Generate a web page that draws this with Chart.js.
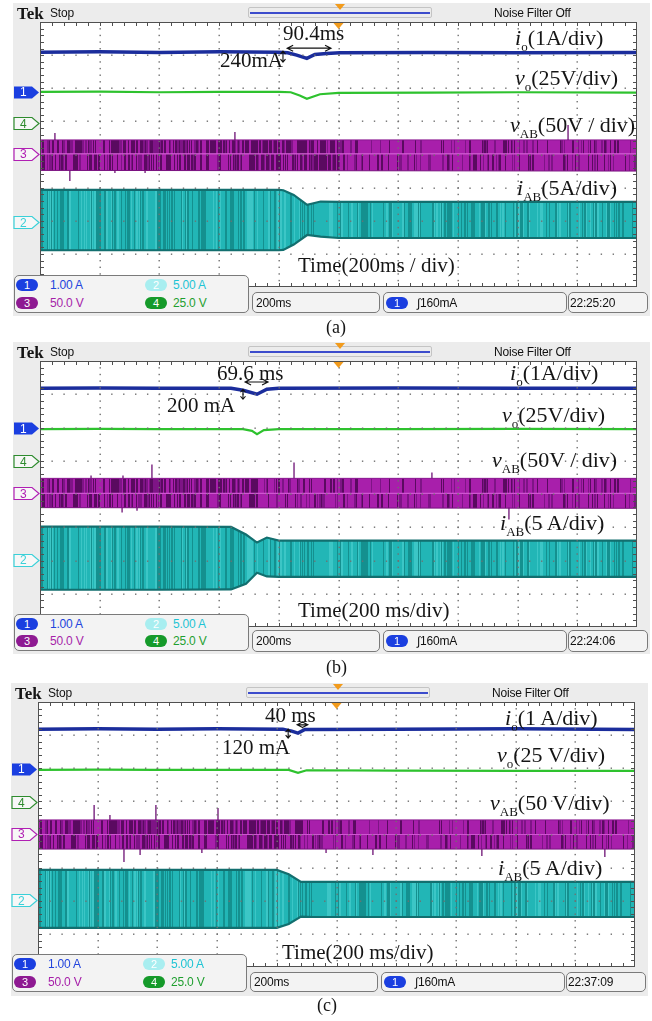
<!DOCTYPE html>
<html>
<head>
<meta charset="utf-8">
<script src="https://cdn.jsdelivr.net/npm/chart.js@4.4.1/dist/chart.umd.min.js"></script>
<style>
body { margin: 0; background: #fff; width: 652px; height: 1021px; position: relative; overflow: hidden; }
.panel { position: absolute; left: 0; width: 652px; height: 318px; }
.panel canvas { position: absolute; left: 0; top: 0; }
.scr { position: absolute; background: #ececec; }
.t { position: absolute; white-space: nowrap; line-height: 1; transform: translateY(-50%); }
.serif { font-family: "Liberation Serif", "Times New Roman", serif; color: #151515; }
.lbl { font-size: 22px; }
.ui { font-family: "Liberation Sans", Arial, sans-serif; font-size: 12px; color: #111; letter-spacing: -0.2px; }
.box { position: absolute; border: 1px solid #7a7a7a; border-radius: 5px; background: #f3f3f3; box-sizing: border-box; }
.pill { position: absolute; width: 22px; height: 12px; border-radius: 6px; color: #fff; text-align: center;
        font-family: "Liberation Sans", Arial, sans-serif; font-size: 11px; line-height: 12px; transform: translateY(-50%); }
.mk { position: absolute; font-family: "Liberation Sans", Arial, sans-serif; font-size: 12px; line-height: 1; transform: translateY(-50%); }
sub { font-size: 13px; vertical-align: -6px; line-height: 0; font-style: normal; }
.bar { position: absolute; height: 11px; border: 1px solid #c4c4c4; border-radius: 2px; box-sizing: border-box; }
.bar div { position: absolute; left: 1px; right: 1px; top: 4px; height: 1.5px; background: #3c4ccc; }
.tri { position: absolute; width: 0; height: 0; border-left: 5px solid transparent; border-right: 5px solid transparent; border-top: 6px solid #f29b1c; }
</style>
</head>
<body>
<div id="pa" class="panel"></div>
<div id="pb" class="panel"></div>
<div id="pc" class="panel"></div>

<script>
// ---------- panel (a) ----------
const ioTimeA = [0, 200, 400, 600, 800, 830, 860, 894, 921, 960, 1005, 1300, 1600, 2000];
const ioA     = [7.09, 7.10, 7.08, 7.10, 7.09, 7.07, 7.00, 6.90, 7.02, 7.05, 7.07, 7.08, 7.07, 7.08];
const voTimeA = [0, 200, 400, 600, 800, 840, 870, 894, 938, 1000, 1300, 1600, 2000];
const voA     = [5.89, 5.90, 5.88, 5.89, 5.89, 5.88, 5.78, 5.68, 5.82, 5.86, 5.87, 5.88, 5.87];
const vabTimeA = [0, 2000];
const vabTopA  = [4.44, 4.44];
const vabMidA  = [4.02, 4.02];
const vabBotA  = [3.52, 3.50];
const spikeTimeA = [50, 100, 251, 352, 653, 1769];
const spikeTipA  = [4.65, 3.20, 3.44, 3.44, 4.68, 4.89];
const iabTimeA = [0, 400, 800, 815, 850, 895, 940, 1000, 1400, 2000];
const iabTopA  = [2.93, 2.93, 2.93, 2.92, 2.78, 2.48, 2.58, 2.57, 2.57, 2.57];
const iabBotA  = [1.11, 1.11, 1.11, 1.12, 1.28, 1.57, 1.52, 1.48, 1.48, 1.48];
const arrowA = [828, 975, 7.21];   // t0, t1, level
const tickA  = [814, 7.12, 6.79];  // t, from, to
const markerA = [5.89, 4.95, 4.02, 1.96]; // ch1, ch4, ch3, ch2

// ---------- panel (b) ----------
const ioTimeB = [0, 200, 400, 640, 680, 727, 760, 800, 1200, 1600, 2000];
const ioB     = [7.18, 7.19, 7.18, 7.18, 7.12, 7.00, 7.15, 7.18, 7.19, 7.18, 7.18];
const voTimeB = [0, 200, 400, 680, 710, 727, 750, 800, 1200, 1600, 2000];
const voB     = [5.95, 5.96, 5.95, 5.95, 5.90, 5.80, 5.92, 5.95, 5.95, 5.96, 5.95];
const vabTimeB = [0, 2000];
const vabTopB  = [4.47, 4.47];
const vabMidB  = [4.02, 4.02];
const vabBotB  = [3.59, 3.57];
const spikeTimeB = [171, 275, 278, 325, 375, 851, 1313, 1571];
const spikeTipB  = [4.56, 3.44, 4.56, 3.50, 4.89, 4.95, 4.65, 3.23];
const iabTimeB = [0, 400, 640, 690, 727, 760, 800, 1200, 2000];
const iabTopB  = [3.02, 3.02, 3.01, 2.78, 2.54, 2.69, 2.60, 2.60, 2.60];
const iabBotB  = [1.12, 1.12, 1.13, 1.30, 1.63, 1.52, 1.51, 1.51, 1.51];
const arrowB = [687, 764, 7.37];
const tickB  = [680, 7.15, 6.85];
const markerB = [5.98, 4.98, 4.02, 2.02];

// ---------- panel (c) ----------
const ioTimeC = [0, 200, 400, 600, 820, 850, 871, 894, 1200, 1600, 2000];
const ioC     = [7.18, 7.19, 7.18, 7.19, 7.18, 7.12, 7.06, 7.17, 7.18, 7.19, 7.17];
const voTimeC = [0, 200, 400, 600, 840, 871, 900, 1200, 1600, 2000];
const voC     = [5.95, 5.96, 5.95, 5.95, 5.95, 5.86, 5.94, 5.93, 5.92, 5.92];
const vabTimeC = [0, 2000];
const vabTopC  = [4.44, 4.44];
const vabMidC  = [4.00, 4.00];
const vabBotC  = [3.56, 3.56];
const spikeTimeC = [188, 241, 288, 342, 395, 549, 603, 965, 1122, 1487, 1899];
const spikeTipC  = [4.89, 4.59, 3.17, 3.38, 4.89, 3.44, 4.80, 3.44, 3.38, 3.35, 3.32];
const iabTimeC = [0, 400, 800, 840, 881, 920, 1200, 2000];
const iabTopC  = [2.93, 2.93, 2.93, 2.80, 2.57, 2.57, 2.57, 2.57];
const iabBotC  = [1.18, 1.18, 1.18, 1.30, 1.52, 1.51, 1.51, 1.51];
const arrowC = [868, 904, 7.31];
const tickC  = [838, 7.18, 6.91];
const markerC = [5.98, 4.98, 4.02, 2.02];

const W = 652, H = 318;

const panels = [
  { el: 'pa', top: 0, dx: 0, plotL: 40, plotR: 637, plotT: 22, plotB: 287, scrT: 3, scrB: 316,
    io: [ioTimeA, ioA], vo: [voTimeA, voA], vab: [vabTimeA, vabTopA, vabMidA, vabBotA],
    spikes: [spikeTimeA, spikeTipA], iab: [iabTimeA, iabTopA, iabBotA],
    arrow: arrowA, tick: tickA, markers: markerA, darkUntil: 1005,
    meas: ['90.4ms', 283, 33], delta: ['240mA', 220, 60],
    labels: [
      ['<i>i</i><sub>o</sub>(1A/div)', 515, 38],
      ['<i>v</i><sub>o</sub>(25V/div)', 515, 78],
      ['<i>v</i><sub>AB</sub>(50V / div)', 510, 125],
      ['<i>i</i><sub>AB</sub>(5A/div)', 517, 188]
    ],
    time: ['Time(200ms / div)', 298, 265],
    legend: [14, 275, 235, 38], boxY: [292, 21], clock: '22:25:20',
    caption: ['(a)', 326, 327] },
  { el: 'pb', top: 340, dx: 0, plotL: 40, plotR: 637, plotT: 21, plotB: 287, scrT: 2, scrB: 314,
    io: [ioTimeB, ioB], vo: [voTimeB, voB], vab: [vabTimeB, vabTopB, vabMidB, vabBotB],
    spikes: [spikeTimeB, spikeTipB], iab: [iabTimeB, iabTopB, iabBotB],
    arrow: arrowB, tick: tickB, markers: markerB, darkUntil: 727,
    meas: ['69.6 ms', 217, 33], delta: ['200 mA', 167, 65],
    labels: [
      ['<i>i</i><sub>o</sub>(1A/div)', 510, 33],
      ['<i>v</i><sub>o</sub>(25V/div)', 502, 75],
      ['<i>v</i><sub>AB</sub>(50V / div)', 492, 120],
      ['<i>i</i><sub>AB</sub>(5 A/div)', 500, 183]
    ],
    time: ['Time(200 ms/div)', 298, 270],
    legend: [14, 274, 235, 37], boxY: [290, 22], clock: '22:24:06',
    caption: ['(b)', 326, 327] },
  { el: 'pc', top: 680, dx: -2, plotL: 38, plotR: 635, plotT: 22, plotB: 287, scrT: 3, scrB: 316,
    io: [ioTimeC, ioC], vo: [voTimeC, voC], vab: [vabTimeC, vabTopC, vabMidC, vabBotC],
    spikes: [spikeTimeC, spikeTipC], iab: [iabTimeC, iabTopC, iabBotC],
    arrow: arrowC, tick: tickC, markers: markerC, darkUntil: 880,
    meas: ['40 ms', 265, 35], delta: ['120 mA', 222, 67],
    labels: [
      ['<i>i</i><sub>o</sub>(1 A/div)', 505, 38],
      ['<i>v</i><sub>o</sub>(25 V/div)', 497, 75],
      ['<i>v</i><sub>AB</sub>(50 V/div)', 490, 123],
      ['<i>i</i><sub>AB</sub>(5 A/div)', 498, 188]
    ],
    time: ['Time(200 ms/div)', 282, 272],
    legend: [12, 274, 235, 38], boxY: [292, 20], clock: '22:37:09',
    caption: ['(c)', 317, 325] }
];

function hash(i, s) {
  const v = Math.sin(i * 12.9898 + s * 78.233) * 43758.5453;
  return v - Math.floor(v);
}

// fine vertical hairline texture for the dense switching traces
function stripes(ctx, from, to, colors, seed, split, densA, densB, lightP) {
  const c = document.createElement('canvas');
  c.width = W; c.height = 4;
  const g = c.getContext('2d');
  g.fillStyle = colors[0];
  g.fillRect(0, 0, W, 4);
  let x = from, i = 0;
  while (x < to) {
    const w = hash(i, seed) < 0.25 ? 2 : 1;
    const d = x < split ? densA : densB;
    const r = hash(i + 500, seed);
    if (r < d) { g.fillStyle = colors[1]; g.fillRect(x, 0, w, 4); }
    else if (r < d + lightP) { g.fillStyle = colors[2]; g.fillRect(x, 0, w, 4); }
    x += w; i++;
  }
  return ctx.createPattern(c, 'repeat');
}

function pts(xs, ys) {
  return xs.map((x, i) => ({ x: x, y: ys[i] }));
}

function spikePts(ts, tips, top, bot, mid) {
  const out = [];
  ts.forEach((t, i) => {
    out.push({ x: t, y: tips[i] > mid ? top : bot }, { x: t, y: tips[i] }, { x: t, y: null });
  });
  return out;
}

const scope = {
  id: 'scope',
  beforeDraw(chart) {
    const { ctx, chartArea: a } = chart;
    ctx.save();
    ctx.fillStyle = '#ffffff';
    ctx.fillRect(a.left, a.top, a.width, a.height);
    ctx.restore();
  },
  afterDatasetsDraw(chart, args, opts) {
    const { ctx, chartArea: a } = chart;
    const dx = a.width / 10, dy = a.height / 8;
    ctx.save();
    // dotted graticule
    ctx.fillStyle = '#707070';
    for (let k = 1; k < 10; k++) {
      const x = Math.round(a.left + k * dx);
      for (let j = 1; j < 40; j++) ctx.fillRect(x - 0.5, a.top + j * dy / 5 - 0.5, 1.4, 1.4);
    }
    for (let k = 1; k < 8; k++) {
      const y = Math.round(a.top + k * dy);
      for (let j = 1; j < 50; j++) ctx.fillRect(a.left + j * dx / 5 - 0.5, y - 0.5, 1.4, 1.4);
    }
    // border ticks
    ctx.strokeStyle = '#505050';
    ctx.lineWidth = 1;
    ctx.beginPath();
    for (let j = 1; j < 50; j++) {
      const x = Math.round(a.left + j * dx / 5) + 0.5;
      ctx.moveTo(x, a.top); ctx.lineTo(x, a.top + 4);
      ctx.moveTo(x, a.bottom); ctx.lineTo(x, a.bottom - 4);
    }
    for (let j = 1; j < 40; j++) {
      const y = Math.round(a.top + j * dy / 5) + 0.5;
      ctx.moveTo(a.left, y); ctx.lineTo(a.left + 4, y);
      ctx.moveTo(a.right, y); ctx.lineTo(a.right - 4, y);
    }
    ctx.stroke();
    ctx.strokeRect(Math.round(a.left) + 0.5, Math.round(a.top) + 0.5, Math.round(a.width) - 1, Math.round(a.height) - 1);

    // cursor arrows
    const sx = chart.scales.x, sy = chart.scales.y;
    ctx.strokeStyle = '#111';
    ctx.fillStyle = '#111';
    ctx.lineWidth = 1.1;
    const ar = opts.arrow;
    const x0 = sx.getPixelForValue(ar[0]), x1 = sx.getPixelForValue(ar[1]), ya = sy.getPixelForValue(ar[2]);
    ctx.beginPath();
    ctx.moveTo(x0, ya); ctx.lineTo(x1, ya);
    ctx.moveTo(x0 + 6, ya - 3); ctx.lineTo(x0, ya); ctx.lineTo(x0 + 6, ya + 3);
    ctx.moveTo(x1 - 6, ya - 3); ctx.lineTo(x1, ya); ctx.lineTo(x1 - 6, ya + 3);
    ctx.stroke();
    const tk = opts.tick;
    const xt = sx.getPixelForValue(tk[0]), y0 = sy.getPixelForValue(tk[1]), y1 = sy.getPixelForValue(tk[2]);
    ctx.beginPath();
    ctx.moveTo(xt, y0); ctx.lineTo(xt, y1);
    ctx.moveTo(xt - 2.5, y0 + 3); ctx.lineTo(xt, y0); ctx.lineTo(xt + 2.5, y0 + 3);
    ctx.moveTo(xt - 2.5, y1 - 3); ctx.lineTo(xt, y1); ctx.lineTo(xt + 2.5, y1 - 3);
    ctx.stroke();

    // trigger position marker
    const cx = sx.getPixelForValue(1000);
    ctx.fillStyle = '#f29b1c';
    ctx.beginPath();
    ctx.moveTo(cx - 5, a.top + 1); ctx.lineTo(cx + 5, a.top + 1); ctx.lineTo(cx, a.top + 7);
    ctx.closePath(); ctx.fill();

    // channel ground markers
    const mcol = ['#1b3fe0', '#2e8b2e', '#b01fb3', '#3ad0d8'];
    opts.markers.forEach((lv, i) => {
      const y = Math.round(sy.getPixelForValue(lv)) + 0.5;
      const l = opts.markX, r = a.left - 1;
      ctx.beginPath();
      ctx.moveTo(l, y - 6); ctx.lineTo(r - 7, y - 6); ctx.lineTo(r, y);
      ctx.lineTo(r - 7, y + 6); ctx.lineTo(l, y + 6); ctx.closePath();
      if (i === 0) { ctx.fillStyle = mcol[0]; ctx.fill(); }
      else { ctx.fillStyle = '#f7f7f7'; ctx.fill(); ctx.strokeStyle = mcol[i]; ctx.lineWidth = 1.2; ctx.stroke(); }
    });
    ctx.restore();
  }
};

function addDiv(root, cls, html, x, y, extra) {
  const d = document.createElement('div');
  d.className = cls;
  d.innerHTML = html;
  d.style.left = x + 'px';
  d.style.top = y + 'px';
  if (extra) Object.assign(d.style, extra);
  root.appendChild(d);
  return d;
}

function buildPanel(p) {
  const root = document.getElementById(p.el);
  root.style.top = p.top + 'px';
  const dx = p.dx;

  addDiv(root, 'scr', '', 13 + dx, p.scrT, { width: '637px', height: (p.scrB - p.scrT) + 'px' });

  const cv = document.createElement('canvas');
  cv.width = W; cv.height = H;
  root.appendChild(cv);
  const ctx = cv.getContext('2d');

  const splitPx = p.plotL + p.darkUntil / 2000 * (p.plotR - p.plotL);
  const purpleCols = ['#a81fab', '#5a0a60', '#7e1486'];
  const purpleUp = stripes(ctx, p.plotL, p.plotR, purpleCols, 3, splitPx, 0.5, 0.14, 0.12);
  const purpleLo = stripes(ctx, p.plotL, p.plotR, purpleCols, 7, splitPx, 0.5, 0.14, 0.12);
  const cyanFill = stripes(ctx, p.plotL, p.plotR, ['#22b6b6', '#14908f', '#3cc6c6'], 11, 0, 0.28, 0.28, 0.15);

  const [vt, vTop, vMid, vBot] = p.vab;
  const [it, iTop, iBot] = p.iab;

  new Chart(ctx, {
    type: 'line',
    data: {
      datasets: [
        { data: pts(p.io[0], p.io[1]), borderColor: '#1b2d9c', borderWidth: 3.5, fill: false },
        { data: pts(p.vo[0], p.vo[1]), borderColor: '#2ec22e', borderWidth: 2.2, fill: false },
        { data: spikePts(p.spikes[0], p.spikes[1], vTop[0], vBot[0], vMid[0]), borderColor: '#6e1275', borderWidth: 1.3, fill: false, spanGaps: false },
        { data: pts(vt, vTop), borderColor: '#8a1690', borderWidth: 1, fill: false },
        { data: pts(vt, vMid), borderColor: '#cf55d1', borderWidth: 1.2, fill: '-1', backgroundColor: purpleUp },
        { data: pts(vt, vBot), borderColor: '#7a1280', borderWidth: 1, fill: '-1', backgroundColor: purpleLo },
        { data: pts(it, iTop), borderColor: '#126f6f', borderWidth: 2.2, fill: false },
        { data: pts(it, iBot), borderColor: '#126f6f', borderWidth: 2.2, fill: '-1', backgroundColor: cyanFill }
      ]
    },
    options: {
      responsive: false,
      animation: false,
      devicePixelRatio: 1,
      layout: { padding: { left: p.plotL, right: W - p.plotR, top: p.plotT, bottom: H - p.plotB } },
      scales: {
        x: { type: 'linear', min: 0, max: 2000, display: false },
        y: { min: 0, max: 8, display: false }
      },
      elements: { point: { radius: 0 }, line: { tension: 0 } },
      plugins: {
        legend: { display: false },
        tooltip: { enabled: false },
        scope: { arrow: p.arrow, tick: p.tick, markers: p.markers, markX: 14 + dx }
      }
    },
    plugins: [scope]
  });

  // header
  addDiv(root, 't serif', 'Tek', 17 + dx, p.scrT + 10, { fontWeight: 'bold', fontSize: '17px' });
  addDiv(root, 't ui', 'Stop', 50 + dx, p.scrT + 10);
  addDiv(root, 'bar', '<div></div>', 248 + dx, p.scrT + 4, { width: '184px' });
  addDiv(root, 'tri', '', 335 + dx, p.scrT + 1);
  addDiv(root, 't ui', 'Noise Filter Off', 494 + dx, p.scrT + 10);

  // annotations
  addDiv(root, 't serif', p.meas[0], p.meas[1], p.meas[2], { fontSize: '21px' });
  addDiv(root, 't serif', p.delta[0], p.delta[1], p.delta[2], { fontSize: '21px' });
  p.labels.forEach(l => addDiv(root, 't serif lbl', l[0], l[1], l[2]));
  addDiv(root, 't serif', p.time[0], p.time[1], p.time[2], { fontSize: '21px' });

  // channel marker digits
  const sy = (lv) => p.plotT + (8 - lv) / 8 * (p.plotB - p.plotT);
  const mk = [['1', '#ffffff'], ['4', '#2e8b2e'], ['3', '#b01fb3'], ['2', '#3ad0d8']];
  p.markers.forEach((lv, i) => addDiv(root, 'mk', mk[i][0], 20 + dx, sy(lv) + 0.5, { color: mk[i][1] }));

  // readout boxes
  const lg = p.legend;
  addDiv(root, 'box', '', lg[0], lg[1], { width: lg[2] + 'px', height: lg[3] + 'px' });
  const r1 = lg[1] + 10, r2 = lg[1] + lg[3] - 10;
  addDiv(root, 'pill', '1', lg[0] + 2, r1, { background: '#1b3fe0' });
  addDiv(root, 't ui', '1.00 A', lg[0] + 36, r1, { color: '#2244dd' });
  addDiv(root, 'pill', '2', lg[0] + 131, r1, { background: '#a8eef0' });
  addDiv(root, 't ui', '5.00 A', lg[0] + 159, r1, { color: '#1ec4d4' });
  addDiv(root, 'pill', '3', lg[0] + 2, r2, { background: '#8e1a92' });
  addDiv(root, 't ui', '50.0 V', lg[0] + 36, r2, { color: '#a61fa9' });
  addDiv(root, 'pill', '4', lg[0] + 131, r2, { background: '#159a2a' });
  addDiv(root, 't ui', '25.0 V', lg[0] + 159, r2, { color: '#1f9f2f' });

  const by = p.boxY[0], bh = p.boxY[1], bc = by + bh / 2;
  addDiv(root, 'box', '', 252 + dx, by, { width: '128px', height: bh + 'px' });
  addDiv(root, 't ui', '200ms', 256 + dx, bc);
  addDiv(root, 'box', '', 383 + dx, by, { width: '184px', height: bh + 'px' });
  addDiv(root, 'pill', '1', 386 + dx, bc, { background: '#1b3fe0' });
  addDiv(root, 't ui', '&#8747;160mA', 417 + dx, bc);
  addDiv(root, 'box', '', 568 + dx, by, { width: '80px', height: bh + 'px' });
  addDiv(root, 't ui', p.clock, 570 + dx, bc);

  addDiv(root, 't serif', p.caption[0], p.caption[1], p.caption[2], { fontSize: '18px' });
}

panels.forEach(buildPanel);
</script>
</body>
</html>
